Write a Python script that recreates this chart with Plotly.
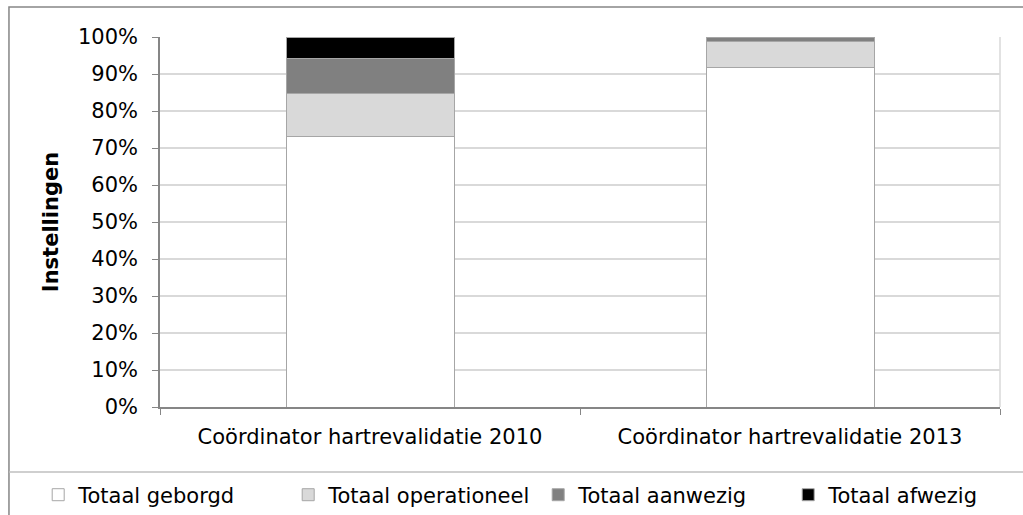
import plotly.graph_objects as go

categories = ["Coördinator hartrevalidatie 2010", "Coördinator hartrevalidatie 2013"]
series_names = ["Totaal geborgd", "Totaal operationeel", "Totaal aanwezig", "Totaal afwezig"]
geborgd = [73.0, 91.7]
operationeel = [11.8, 7.2]
aanwezig = [9.3, 1.1]
afwezig = [5.9, 0.0]
colors = ["#ffffff", "#d9d9d9", "#808080", "#000000"]
y_ticks = [0, 10, 20, 30, 40, 50, 60, 70, 80, 90, 100]
y_tick_labels = [f"{v}%" for v in y_ticks]

FONT = "DejaVu Sans"
FS = 21
fig = go.Figure()
for name, vals, col in zip(series_names, [geborgd, operationeel, aanwezig, afwezig], colors):
    fig.add_trace(go.Bar(
        x=categories, y=vals, name=name, width=0.4,
        marker=dict(color=col, line=dict(color="#a6a6a6", width=1)),
    ))

fig.update_layout(
    barmode="stack",
    width=1023, height=515,
    margin=dict(l=160, r=23, t=37, b=108, autoexpand=False),
    paper_bgcolor="white", plot_bgcolor="white",
    font=dict(family=FONT, size=FS, color="#000000"),
    showlegend=True,
    legend=dict(orientation="h", x=-0.145, xanchor="left", y=-0.238, yanchor="middle",
                font=dict(family=FONT, size=FS), itemwidth=30, traceorder="normal",
                entrywidth=205, entrywidthmode="pixels", bgcolor="rgba(0,0,0,0)"),
    xaxis=dict(showgrid=False, showline=True, linecolor="#868686", linewidth=1.5,
               ticks="outside", ticklen=6, tickcolor="#868686", tickson="boundaries",
               ticklabelstandoff=10, tickfont=dict(family=FONT, size=FS)),
    yaxis=dict(range=[0, 100], tickvals=y_ticks, ticktext=y_tick_labels,
               showgrid=True, gridcolor="#d9d9d9", gridwidth=1.5,
               showline=True, linecolor="#868686", linewidth=1.5,
               ticks="outside", ticklen=6, tickcolor="#868686",
               ticklabelstandoff=10,
               tickfont=dict(family=FONT, size=FS),
               title=dict(text="<b>Instellingen</b>", font=dict(family=FONT, size=FS), standoff=14)),
    shapes=[
        dict(type="line", xref="paper", yref="paper", x0=1, x1=1, y0=0, y1=1,
             line=dict(color="#d9d9d9", width=1.5)),
        dict(type="rect", xref="paper", yref="paper", x0=-0.1798, x1=1.04, y0=-0.31, y1=1.081,
             line=dict(color="#868686", width=1.5), fillcolor="rgba(0,0,0,0)", layer="below"),
        dict(type="line", xref="paper", yref="paper", x0=-0.1798, x1=1.04, y0=-0.1757, y1=-0.1757,
             line=dict(color="#bfbfbf", width=1.5)),
    ],
)
fig.write_html("out.html", config={"displayModeBar": False},
               post_script="document.body.style.margin='0';document.body.style.overflow='hidden';")
